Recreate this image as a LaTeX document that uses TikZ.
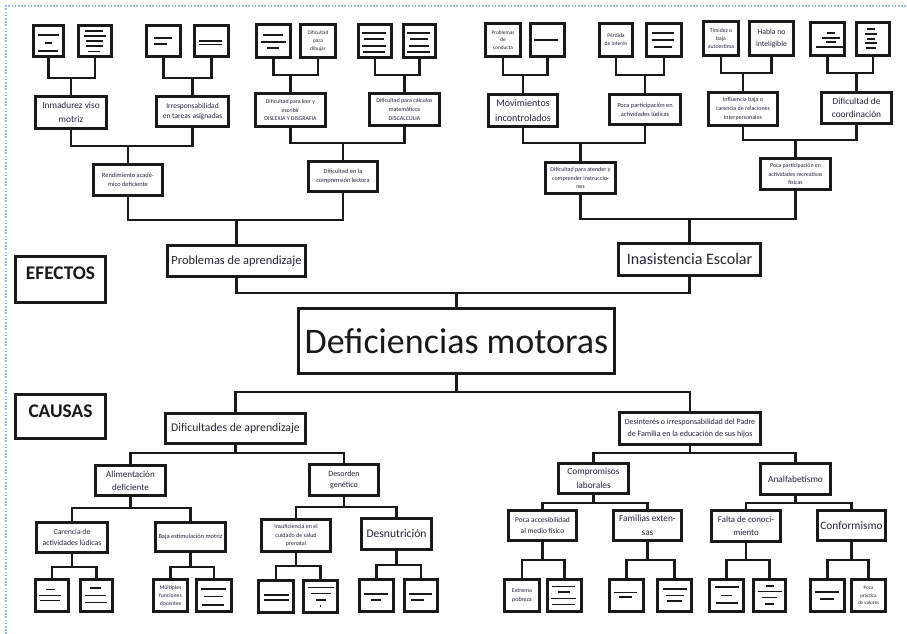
\documentclass[tikz,border=0pt]{standalone}
\usepackage{fontspec}
\setmainfont{Carlito}
\definecolor{boxc}{RGB}{25,25,25}
\definecolor{txtc}{RGB}{35,35,55}
\definecolor{pageb}{RGB}{150,185,235}
\newcommand\fs[1]{\fontsize{#1pt}{\fpeval{#1*1.45}pt}\selectfont}
\tikzset{
  box/.style={draw=boxc, line width=2.4pt, fill=white, inner sep=0.5pt, align=center, text=txtc},
  leafbox/.style={box, line width=2.7pt},
  lab/.style={draw=boxc, line width=2.4pt, fill=white, inner sep=0.5pt, text=boxc},
  con/.style={draw=boxc, line width=1.9pt},
  ph/.style={draw=boxc, line width=1.4pt},
}
% [style]{name}{x1}{y1}{x2}{y2}{font size}{text}
\newcommand\bxn[8][box]{\node[#1,font=\fs{#7},minimum width={(#5-#3-3)*0.75pt},minimum height={(#6-#4-3)*0.75pt}] (#2) at ({(#3+#5)/2},{(#4+#6)/2}) {#8};}
% placeholder line: {node}{dx}{dy}{width}
\newcommand\phl[4]{\draw[ph] ([shift={({#2-(#4)/2},{#3})}]#1.center) -- ++(#4,0);}
% children above parent
\newcommand\upj[4]{\draw[con] (#2.south) |- (#1.north |- 0,#4) -| (#3.south); \draw[con] (#1.north) -- (#1.north |- 0,#4);}
% children below parent
\newcommand\dnj[4]{\draw[con] (#2.north) |- (#1.south |- 0,#4) -| (#3.north); \draw[con] (#1.south) -- (#1.south |- 0,#4);}
\begin{document}
\begin{tikzpicture}[x=0.75pt,y=-0.75pt]
\useasboundingbox[fill=white] (0,0) rectangle (907,634);
\draw[pageb, line width=1.2pt, dash pattern=on 1.2pt off 1.2pt] (6,634) -- (6,6) -- (907,6);

% ---------------- EFECTOS: top leaves ----------------
\bxn[leafbox]{b1}{32}{24}{65}{58}{4}{}
\bxn[leafbox]{b2}{77}{24}{113}{58}{4}{}
\bxn[leafbox]{b3}{145}{24}{182}{58}{4}{}
\bxn[leafbox]{b4}{193}{24}{230}{58}{4}{}
\bxn[leafbox]{b5}{255}{23}{292}{59}{4}{}
\bxn[leafbox]{b6}{299}{23}{337}{59}{4}{Dificultad\\para\\dibujar}
\bxn[leafbox]{b7}{357}{23}{393}{59}{4}{}
\bxn[leafbox]{b8}{402}{23}{437}{59}{4}{}
\bxn[leafbox]{b9}{484}{22}{522}{58}{4}{Problemas\\de\\conducta}
\bxn[leafbox]{b10}{529}{22}{566}{58}{4}{}
\bxn[leafbox]{b11}{598}{22}{634}{58}{4.2}{Pérdida\\de interés}
\bxn[leafbox]{b12}{645}{22}{683}{58}{4}{}
\bxn[leafbox]{b13}{702}{20}{740}{57}{4.3}{Timidez o\\baja\\autoestima}
\bxn[leafbox]{b14}{748}{20}{795}{57}{5.8}{Habla no\\inteligible}
\bxn[leafbox]{b15}{809}{21}{846}{57}{4}{}
\bxn[leafbox]{b16}{855}{21}{891}{57}{4}{}

% placeholder text lines
\phl{b1}{0}{-6}{21}\phl{b1}{0}{2}{7}\phl{b1}{-1}{10}{20}
\phl{b2}{-1}{-10}{18}\phl{b2}{-0.5}{-5}{22}\phl{b2}{-0.5}{0}{17}\phl{b2}{-0.5}{5}{17}\phl{b2}{-1}{10.5}{12}
\phl{b3}{-0.5}{-3}{18}\phl{b3}{-3}{3}{13}
\phl{b4}{-1.5}{0}{23}\phl{b4}{-1.5}{3.5}{23}
\phl{b5}{-1}{-6}{20}\phl{b5}{0}{1}{25}\phl{b5}{-0.5}{7}{12}
\phl{b7}{-1}{-7.7}{24}\phl{b7}{-1}{-1.7}{20}\phl{b7}{-1}{4.7}{24}\phl{b7}{-1}{10.7}{22}
\phl{b8}{-1}{-7.7}{23}\phl{b8}{-1}{-1.7}{18}\phl{b8}{-1}{4.7}{20}\phl{b8}{-1}{10.7}{23}
\phl{b10}{-1.5}{0}{24}
\phl{b12}{-1}{-7}{22}\phl{b12}{-1}{0}{22}\phl{b12}{-1}{7}{18}
\phl{b15}{3}{-6.3}{8}\phl{b15}{3}{-1.3}{18}\phl{b15}{3}{3.3}{10}\phl{b15}{2}{7.7}{28}
\phl{b16}{-2}{-9.7}{8}\phl{b16}{-2}{-5}{12}\phl{b16}{-2}{-0.3}{8}\phl{b16}{-2}{4.3}{12}\phl{b16}{-2}{9.3}{10}

% second level
\bxn{m1}{34}{95}{108}{130}{7}{Inmadurez viso\\motriz}
\bxn{m2}{155}{95}{230}{128}{5.6}{Irresponsabilidad\\en tareas asignadas}
\bxn{m3}{254}{92}{327}{128}{4.4}{Dificultad para leer y\\escribir\\DISLEXIA Y DISGRAFIA}
\bxn{m4}{368}{92}{441}{127}{4.5}{Dificultad para cálculos\\matemáticos\\DISCALCULIA}
\bxn{m5}{487}{93}{559}{128}{7.5}{Movimientos\\incontrolados}
\bxn{m6}{608}{93}{682}{126}{4.8}{Poca participación en\\actividades lúdicas}
\bxn{m7}{707}{91}{779}{127}{4.5}{Influencia baja o\\carencia de relaciones\\interpersonales}
\bxn{m8}{820}{91}{893}{125}{7}{Dificultad de\\coordinación}

% third level
\bxn{r1}{92}{163}{164}{197}{4.8}{Rendimiento acadé-\\mico deficiente}
\bxn{r2}{307}{160}{379}{193}{4.8}{Dificultad en la\\comprensión lectora}
\bxn{r3}{544}{161}{617}{195}{4.5}{Dificultad para atender y\\comprender instruccio-\\nes}
\bxn{r4}{759}{157}{832}{191}{4.4}{Poca participación en\\actividades recreativas\\físicas}

% effects
\bxn{P1}{166}{244}{307}{278}{9.3}{Problemas de aprendizaje}
\bxn{P2}{617}{242}{762}{277}{12}{Inasistencia Escolar}
\bxn[lab,text depth=9.5pt]{ef}{14}{255}{107}{304}{14.5}{\bfseries EFECTOS}

% center
\bxn[box,line width=2.6pt,text=boxc]{main}{297}{307}{616}{375}{27}{Deficiencias motoras}

% ---------------- CAUSAS ----------------
\bxn[lab,text depth=8.7pt]{ca}{14}{393}{107}{440}{14.5}{\bfseries CAUSAS}
\bxn{C1}{164}{412}{307}{445}{8.8}{Dificultades de aprendizaje}
\bxn{C2}{618}{411}{762}{446}{6}{Desinterés o irresponsabilidad del Padre\\de Familia en la educación de sus hijos}

\bxn{A1}{94}{464}{167}{497}{6.8}{Alimentación\\deficiente}
\bxn{A2}{308}{463}{380}{497}{6}{Desorden\\genético}
\bxn{A3}{557}{462}{630}{495}{7}{Compromisos\\laborales}
\bxn{A4}{759}{462}{832}{496}{7}{Analfabetismo}

\bxn{B1}{35}{521}{109}{554}{5.8}{Carencia de\\actividades lúdicas}
\bxn{B2}{154}{521}{227}{553}{4.8}{Baja estimulación motriz}
\bxn{B3}{260}{518}{332}{553}{4.5}{Insuficiencia en el\\cuidado de salud\\prenatal}
\bxn{B4}{360}{517}{433}{551}{8.7}{Desnutrición}
\bxn{B5}{507}{509}{578}{542}{5.6}{Poca accesibilidad\\al medio físico}
\bxn{B6}{612}{509}{683}{542}{7}{Familias exten-\\sas}
\bxn{B7}{710}{509}{782}{543}{6.6}{Falta de conoci-\\miento}
\bxn{B8}{816}{509}{887}{542}{8.5}{Conformismo}

\bxn[leafbox]{L1}{34}{578}{70}{613}{4}{}
\bxn[leafbox]{L2}{79}{578}{114}{613}{4}{}
\bxn[leafbox]{L3}{152}{578}{189}{613}{4.3}{Múltiples\\funciones\\docentes}
\bxn[leafbox]{L4}{195}{578}{233}{613}{4}{}
\bxn[leafbox]{L5}{257}{579}{295}{614}{4}{}
\bxn[leafbox]{L6}{302}{579}{339}{614}{4}{}
\bxn[leafbox]{L7}{358}{578}{395}{613}{4}{}
\bxn[leafbox]{L8}{403}{578}{439}{613}{4}{}
\bxn[leafbox]{L9}{503}{578}{541}{613}{4.5}{Extrema\\pobreza}
\bxn[leafbox]{L10}{546}{578}{583}{613}{4}{}
\bxn[leafbox]{L11}{608}{578}{645}{613}{4}{}
\bxn[leafbox]{L12}{656}{578}{693}{613}{4}{}
\bxn[leafbox]{L13}{708}{578}{745}{613}{4}{}
\bxn[leafbox]{L14}{752}{578}{787}{613}{4}{}
\bxn[leafbox]{L15}{809}{578}{846}{613}{4}{}
\bxn[leafbox]{L16}{850}{578}{887}{613}{3.8}{Poca\\práctica\\de valores}

\phl{L1}{-2}{-6}{9}\phl{L1}{-2}{0}{22}\phl{L1}{-2}{5}{20}
\phl{L2}{-1}{-7.5}{11}\phl{L2}{-1}{0}{21}\phl{L2}{-1}{7}{22}
\phl{L4}{-1}{-6.5}{25}\phl{L4}{-1}{1}{19}\phl{L4}{-1}{9.5}{22}
\phl{L5}{0}{-1.5}{25}\phl{L5}{0}{3.5}{25}
\phl{L6}{0}{-9}{26}\phl{L6}{0}{-3}{20}\phl{L6}{0}{3.5}{10}\phl{L6}{0}{9.5}{1.5}
\phl{L7}{-1}{-1.5}{24}\phl{L7}{-1}{4.5}{10}
\phl{L8}{-1}{-1.5}{23}\phl{L8}{-4}{4.5}{13}
\phl{L10}{-1}{-9}{23}\phl{L10}{-1}{-3.5}{12}\phl{L10}{-1}{3}{25}\phl{L10}{-1}{9}{23}
\phl{L11}{-1}{-3}{23}\phl{L11}{-1}{1.5}{13}
\phl{L12}{0}{-6.5}{24}\phl{L12}{0}{0}{18}\phl{L12}{0}{5.5}{15}
\phl{L13}{0}{-8.5}{24}\phl{L13}{0}{0}{11}\phl{L13}{0}{7.5}{22}
\phl{L14}{0}{-9.5}{8}\phl{L14}{0}{-4}{24}\phl{L14}{0}{2}{15}\phl{L14}{0}{8.5}{9}
\phl{L15}{-1}{-3.5}{24}\phl{L15}{-1}{3.5}{14}

% ---------------- connectors ----------------
\upj{m1}{b1}{b2}{78}\upj{m2}{b3}{b4}{78}
\upj{m3}{b5}{b6}{75}\upj{m4}{b7}{b8}{75}
\upj{m5}{b9}{b10}{75}\upj{m6}{b11}{b12}{75}
\upj{m7}{b13}{b14}{73}\upj{m8}{b15}{b16}{73}
\upj{r1}{m1}{m2}{146}\upj{r2}{m3}{m4}{143}
\upj{r3}{m5}{m6}{143}\upj{r4}{m7}{m8}{140}
\upj{P1}{r1}{r2}{220}\upj{P2}{r3}{r4}{219}
\upj{main}{P1}{P2}{293}
\dnj{main}{C1}{C2}{392}
\dnj{C1}{A1}{A2}{453}\dnj{C2}{A3}{A4}{453}
\dnj{A1}{B1}{B2}{508}\dnj{A2}{B3}{B4}{507}
\dnj{A3}{B5}{B6}{503}\dnj{A4}{B7}{B8}{503}
\dnj{B1}{L1}{L2}{567}\dnj{B2}{L3}{L4}{567}
\dnj{B3}{L5}{L6}{566}\dnj{B4}{L7}{L8}{565}
\dnj{B5}{L9}{L10}{560}\dnj{B6}{L11}{L12}{560}
\dnj{B7}{L13}{L14}{560}\dnj{B8}{L15}{L16}{560}
\end{tikzpicture}
\end{document}
